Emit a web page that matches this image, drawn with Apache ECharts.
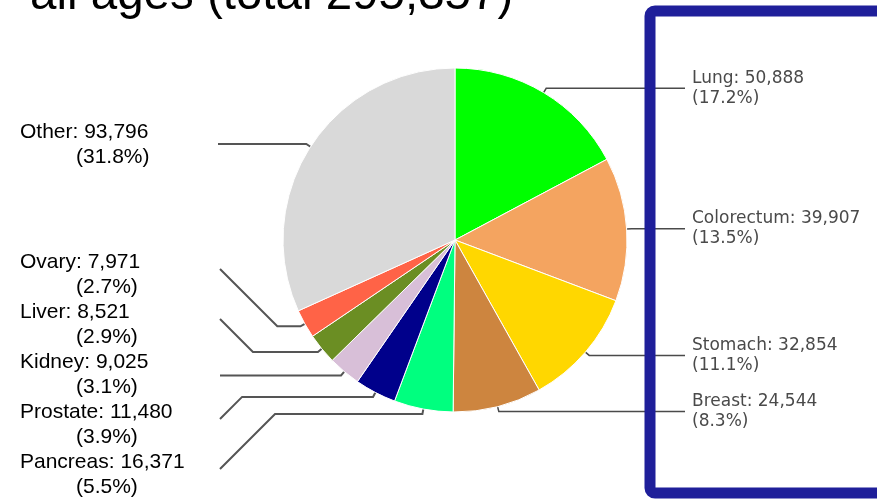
<!DOCTYPE html>
<html><head><meta charset="utf-8">
<script src="https://cdn.jsdelivr.net/npm/echarts@6/dist/echarts.min.js"></script>
<style>html,body{margin:0;padding:0;background:#fff}#c{width:877px;height:502px}</style>
</head><body><div id="c"></div>
<script>
const categories = ['Lung','Colorectum','Stomach','Breast','Pancreas','Prostate','Kidney','Liver','Ovary','Other'];
const values = [50888,39907,32854,24544,16371,11480,9025,8521,7971,93796];
const colors = ['#00ff00','#f4a460','#ffd700','#cd853f','#00ff7f','#00008b','#d8bfd8','#6b8e23','#ff6347','#d9d9d9'];
const titleText = 'all ages (total 295,357)';

const rightSide = ['Lung','Colorectum','Stomach','Breast'];
const stackedLeft = ['Pancreas','Prostate','Kidney','Liver','Ovary']; // bottom-up on the left

const fmt = p => '{a|' + p.name + ': ' + p.value.toLocaleString('en-US') + '}\n{b|(' + Number(p.percent).toFixed(1) + '%)}';

const rightLabel = {
  formatter: fmt, width: 250, overflow: 'none',
  rich: {
    a: {fontFamily: 'DejaVu Sans', fontSize: 17, lineHeight: 20, color: '#4a4a4a'},
    b: {fontFamily: 'DejaVu Sans', fontSize: 17, lineHeight: 20, color: '#4a4a4a'}
  }
};
const leftLabel = {
  formatter: fmt, width: 250, overflow: 'none',
  rich: {
    a: {fontFamily: 'Liberation Sans', fontSize: 21, lineHeight: 25, color: '#000'},
    b: {fontFamily: 'Liberation Sans', fontSize: 21, lineHeight: 25, color: '#000', padding: [0, 0, 0, 56]}
  }
};

const data = categories.map((n, i) => ({
  name: n, value: values[i],
  itemStyle: {color: colors[i]},
  label: rightSide.includes(n) ? rightLabel : leftLabel,
  labelLine: {lineStyle: rightSide.includes(n) ? {color: '#4a4a4a', width: 1.5} : {color: '#555', width: 2}}
}));

const chart = echarts.init(document.getElementById('c'), null, {renderer: 'canvas'});
chart.setOption({
  animation: false,
  backgroundColor: '#fff',
  graphic: [
    {type: 'text', x: 30, y: -4, z: 50,
     style: {text: titleText, fontSize: 47.5, fontFamily: 'Liberation Sans', fill: '#000', verticalAlign: 'middle'}},
    {type: 'rect', z: 100, shape: {x: 650, y: 11, width: 300, height: 482, r: 5},
     style: {fill: 'transparent', stroke: '#1f1f9a', lineWidth: 11}}
  ],
  series: [{
    type: 'pie',
    center: [455, 240],
    radius: 172,
    startAngle: 90,
    clockwise: true,
    percentPrecision: 1,
    avoidLabelOverlap: false,
    itemStyle: {borderColor: '#fff', borderWidth: 1},
    label: {show: true, position: 'outside'},
    labelLine: {show: true, length: 5, length2: 10, smooth: false},
    emphasis: {disabled: true},
    labelLayout: function (p) {
      const name = categories[p.dataIndex];
      const pts = p.labelLinePoints;
      const e = pts[0], q = pts[1];
      if (rightSide.includes(name)) {
        return {x: 692, y: q[1], align: 'left', verticalAlign: 'middle',
                labelLinePoints: [e, q, [685, q[1]]]};
      }
      const k = stackedLeft.indexOf(name);
      if (k < 0) {
        return {x: 20, y: q[1] + 1, align: 'left', verticalAlign: 'middle',
                labelLinePoints: [e, q, [218, q[1]]]};
      }
      const cy = 475 - 50 * k;
      let ys = cy - 6;
      if (Math.abs(ys - q[1]) < 8) ys = q[1];
      const bx = 220 + Math.abs(q[1] - ys);
      return {x: 20, y: cy, align: 'left', verticalAlign: 'middle',
              labelLinePoints: [e, q, [bx, q[1]], [220, ys]]};
    },
    data: data
  }]
});
</script></body></html>
